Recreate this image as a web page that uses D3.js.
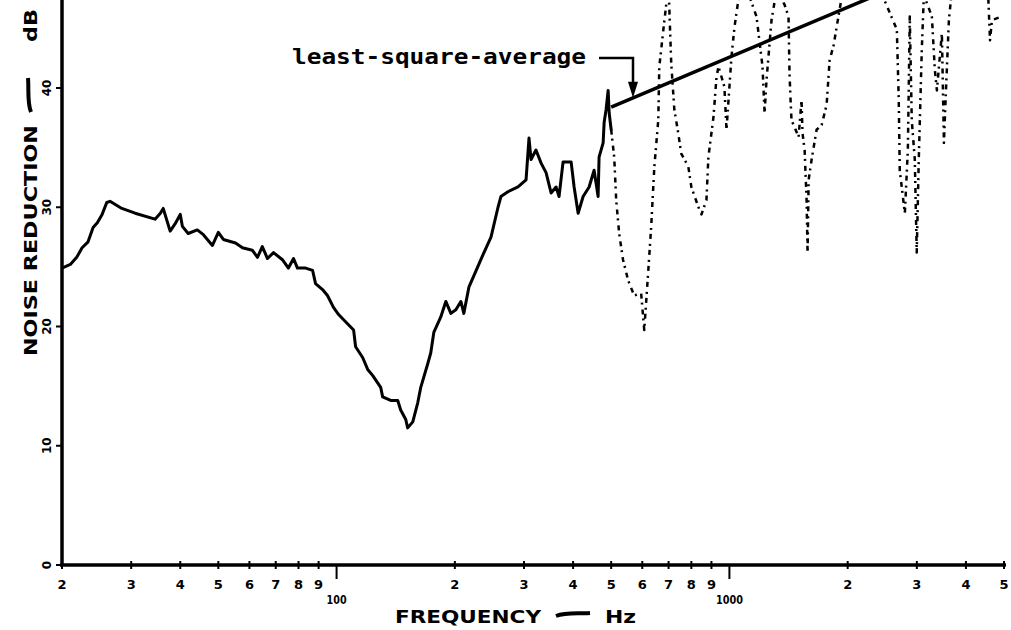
<!DOCTYPE html>
<html><head><meta charset="utf-8">
<script src="https://cdn.jsdelivr.net/npm/d3@7"></script>
<style>body{margin:0;background:#fff}</style>
</head><body><svg id="c" width="1011" height="630"></svg>
<script>
// Noise reduction spectrum, 20 Hz - 5 kHz, with least-square-average trend above 500 Hz

// Measured curve, low band (continuous trace)
const lowFreq = [20, 21.0, 21.8, 22.5, 23.3, 24.0, 24.6, 25.3, 26.0, 26.5, 28.4, 30.7, 34.5, 35.6, 36.2, 37.7, 38.8, 40.0, 40.5, 41.9,
  44.2, 45.8, 48.3, 50.0, 51.5, 55.3, 57.6, 61.0, 62.9, 64.7, 66.7, 69.1, 72.8, 75.4, 77.7, 79.5, 83.4, 86.9, 88.4, 92.1,
  94.8, 98.2, 101.2, 105.4, 110.5, 111.8, 116.5, 120.0, 123.5, 129.5, 131.0, 137.3, 143.1, 145.6, 150.0, 151.7, 156.3, 160.9, 163.8, 170.7,
  173.7, 176.8, 184.2, 189.7, 195.4, 201.2, 207.2, 210.8, 217.2, 235.8, 247.2, 257.6, 262.0, 273.0, 289.6, 303.6, 308.9, 312.6, 321.8, 331.6,
  341.4, 351.6, 362.0, 368.4, 377.2, 395.4, 402.4, 412.0, 424.2, 439.4, 452.4, 463.2, 465.8, 477.0, 479.8, 485.4, 491.2, 494.2, 500];
const lowDb = [24.9, 25.2, 25.8, 26.6, 27.1, 28.3, 28.7, 29.4, 30.4, 30.5, 29.9, 29.5, 29.0, 29.5, 29.9, 28.0, 28.6, 29.4, 28.4, 27.8,
  28.1, 27.7, 26.8, 27.9, 27.3, 27.0, 26.6, 26.4, 25.8, 26.7, 25.7, 26.2, 25.6, 24.9, 25.7, 24.9, 24.9, 24.7, 23.6, 23.1,
  22.6, 21.6, 21.0, 20.4, 19.7, 18.3, 17.4, 16.4, 15.9, 14.9, 14.1, 13.8, 13.8, 13.0, 12.2, 11.5, 12.0, 13.6, 14.9, 16.9,
  17.8, 19.5, 20.8, 22.1, 21.1, 21.4, 22.1, 21.1, 23.3, 26.0, 27.5, 30.0, 30.9, 31.3, 31.7, 32.3, 35.8, 34.0, 34.8, 33.7,
  32.9, 31.2, 31.7, 30.9, 33.8, 33.8, 31.7, 29.5, 30.9, 31.7, 33.1, 30.9, 34.2, 35.4, 37.1, 38.2, 39.8, 37.9, 36.5];

// Measured curve, high band (broken trace)
const highFreq = [500, 509, 515, 524, 536, 552, 572, 596, 607, 621, 632, 644, 659, 663, 679, 691, 699, 711, 724, 741,
  754, 786, 800, 834, 849, 874, 884, 911, 927, 938, 971, 983, 1012, 1030, 1054, 1086, 1172, 1214, 1229, 1243,
  1280, 1318, 1381, 1414, 1422, 1431, 1439, 1465, 1500, 1526, 1535, 1554, 1572, 1581, 1591, 1619, 1667, 1717, 1768, 1799,
  1842, 1897, 1954, 2302, 2668, 2698, 2714, 2796, 2846, 2878, 2912, 2964, 2998, 3034, 3088, 3126, 3276, 3334, 3374, 3474,
  3516, 3556, 3620, 3684, 4552, 4606, 4660, 4944];
const highDb = [36.5, 34.2, 30.6, 27.8, 25.6, 23.9, 22.6, 22.8, 19.7, 24.5, 28.3, 33.4, 37.3, 41.8, 44.9, 47.1, 49.0, 42.1, 38.2, 36.2,
  34.5, 33.4, 31.7, 30.0, 29.4, 30.6, 34.2, 37.6, 40.9, 41.8, 40.1, 36.5, 42.6, 45.1, 47.4, 49.1, 46.0, 41.8, 37.9, 40.7,
  45.7, 48.2, 47.0, 46.0, 41.3, 39.0, 37.3, 36.7, 35.9, 39.0, 36.2, 34.8, 30.6, 26.2, 32.3, 34.0, 36.5, 36.9, 38.6, 42.3,
  43.6, 46.1, 48.6, 49.9, 44.9, 39.0, 33.1, 29.5, 34.8, 46.0, 37.3, 34.0, 26.2, 34.0, 43.2, 47.8, 46.0, 41.5, 39.8, 44.6,
  35.4, 39.6, 45.7, 48.2, 48.2, 44.0, 45.7, 46.0];

// Least-square-average trend line
const lsaFreq = [500, 5000];
const lsaDb = [38.4, 52.3];

const xTickValues = [20, 30, 40, 50, 60, 70, 80, 90, 100, 200, 300, 400, 500, 600, 700, 800, 900, 1000, 2000, 3000, 4000, 5000];
const xTickLabels = ["2", "3", "4", "5", "6", "7", "8", "9", "100", "2", "3", "4", "5", "6", "7", "8", "9", "1000", "2", "3", "4", "5"];
const yTickValues = [0, 10, 20, 30, 40];
const yTickLabels = ["0", "10", "20", "30", "40"];

const svg = d3.select("#c");
const x = d3.scaleLog().domain([20, 5000]).range([62, 1004]);
const y = d3.scaleLinear().domain([0, 40]).range([565, 88]);

svg.append("defs").append("clipPath").attr("id", "plot")
  .append("rect").attr("x", 62).attr("y", 0).attr("width", 949).attr("height", 565);

const line = d3.line().x(d => x(d[0])).y(d => y(d[1]));
const g = svg.append("g").attr("clip-path", "url(#plot)");

g.append("path")
  .attr("d", line(lowFreq.map((f, i) => [f, lowDb[i]])))
  .attr("fill", "none").attr("stroke", "#000").attr("stroke-width", 3)
  .attr("stroke-linejoin", "round").attr("stroke-linecap", "round");

g.append("path")
  .attr("d", line(highFreq.map((f, i) => [f, highDb[i]])))
  .attr("fill", "none").attr("stroke", "#000").attr("stroke-width", 2.5)
  .attr("stroke-dasharray", "5 4 2 5")
  .attr("stroke-linejoin", "round");

g.append("path")
  .attr("d", line(lsaFreq.map((f, i) => [f, lsaDb[i]])))
  .attr("fill", "none").attr("stroke", "#000").attr("stroke-width", 3.5);

// Axes
svg.append("line").attr("x1", 62).attr("x2", 62).attr("y1", 0).attr("y2", 566)
  .attr("stroke", "#000").attr("stroke-width", 3.5);
svg.append("line").attr("x1", 60).attr("x2", x(5000) + 2).attr("y1", 565).attr("y2", 565)
  .attr("stroke", "#000").attr("stroke-width", 3.5);

const decade = v => v === 100 || v === 1000;
const xt = svg.append("g");
xt.selectAll("line").data(xTickValues).join("line")
  .attr("x1", d => x(d)).attr("x2", d => x(d))
  .attr("y1", d => decade(d) ? 565 : 561).attr("y2", d => decade(d) ? 579 : 569)
  .attr("stroke", "#000").attr("stroke-width", 2);
xt.selectAll("text").data(xTickValues).join("text")
  .attr("x", d => x(d)).attr("y", d => decade(d) ? 604 : 589)
  .attr("text-anchor", "middle")
  .attr("font-family", "DejaVu Sans").attr("font-weight", "bold")
  .attr("font-size", d => decade(d) ? 13 : 13)
  .attr("textLength", d => decade(d) ? (d === 100 ? 20 : 27) : null)
  .attr("lengthAdjust", "spacingAndGlyphs")
  .text((d, i) => xTickLabels[i]);

const yt = svg.append("g");
yt.selectAll("line").data(yTickValues).join("line")
  .attr("x1", 56).attr("x2", 62).attr("y1", d => y(d)).attr("y2", d => y(d))
  .attr("stroke", "#000").attr("stroke-width", 2);
yt.selectAll("text").data(yTickValues).join("text")
  .attr("transform", d => `translate(51,${y(d)}) rotate(-90)`)
  .attr("text-anchor", "middle")
  .attr("font-family", "DejaVu Sans").attr("font-weight", "bold").attr("font-size", 12)
  .text((d, i) => yTickLabels[i]);

// Axis titles
const titleFont = t => t.attr("font-family", "DejaVu Sans").attr("font-weight", "bold").attr("fill", "#000");
svg.append("text").attr("x", 395).attr("y", 623).attr("font-size", 17)
  .attr("textLength", 146).attr("lengthAdjust", "spacingAndGlyphs").call(titleFont).text("FREQUENCY");
svg.append("path").attr("d", "M556,616 C566,612 578,614 590,613")
  .attr("fill", "none").attr("stroke", "#000").attr("stroke-width", 4);
svg.append("text").attr("x", 605).attr("y", 623).attr("font-size", 17)
  .attr("textLength", 31).attr("lengthAdjust", "spacingAndGlyphs").call(titleFont).text("Hz");

const yTitle = svg.append("g").attr("transform", "translate(37,0) rotate(-90)");
yTitle.append("text").attr("x", -356).attr("y", 0).attr("font-size", 17)
  .attr("textLength", 231).attr("lengthAdjust", "spacingAndGlyphs").call(titleFont).text("NOISE REDUCTION");
yTitle.append("path").attr("d", "M-112,-6 C-102,-10 -90,-8 -78,-9")
  .attr("fill", "none").attr("stroke", "#000").attr("stroke-width", 4);
yTitle.append("text").attr("x", -42).attr("y", 0).attr("font-size", 17)
  .attr("textLength", 33).attr("lengthAdjust", "spacingAndGlyphs").call(titleFont).text("dB");

// Annotation with pointer to the trend line
svg.append("text").attr("x", 292).attr("y", 64)
  .attr("font-family", "DejaVu Sans Mono").attr("font-weight", "bold").attr("font-size", 21)
  .attr("textLength", 294).attr("lengthAdjust", "spacingAndGlyphs").text("least-square-average");
const ax = 633;
const tipY = y(lsaDb[0] + (lsaDb[1] - lsaDb[0]) * Math.log10(x.invert(ax) / lsaFreq[0]) / Math.log10(lsaFreq[1] / lsaFreq[0]));
svg.append("path").attr("d", `M599,58 L${ax},58 L${ax},${tipY - 12}`)
  .attr("fill", "none").attr("stroke", "#000").attr("stroke-width", 2.5);
svg.append("path").attr("d", `M${ax - 5},${tipY - 16} L${ax + 5},${tipY - 16} L${ax},${tipY} Z`).attr("fill", "#000");
</script></body></html>
